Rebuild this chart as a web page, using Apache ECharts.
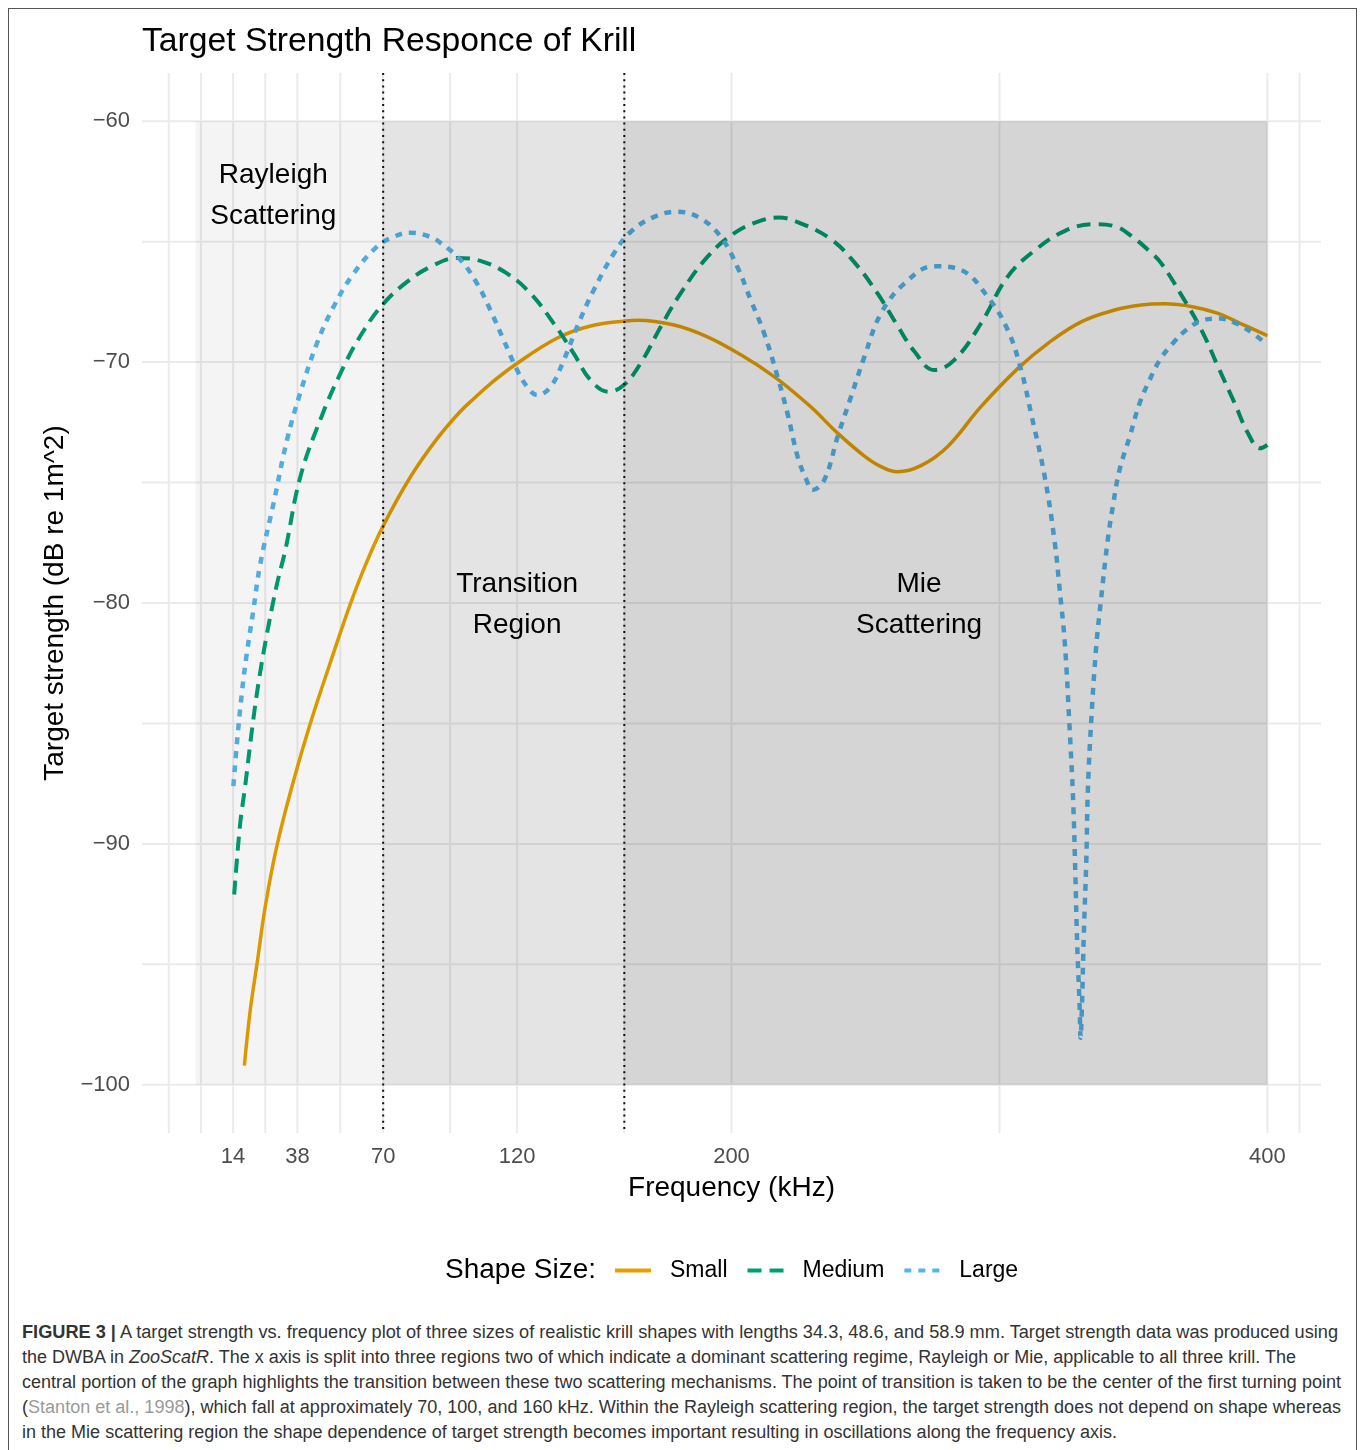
<!DOCTYPE html>
<html>
<head>
<meta charset="utf-8">
<script src="https://cdn.jsdelivr.net/npm/echarts@6/dist/echarts.min.js"></script>
<style>
html,body{margin:0;padding:0;background:#fff;}
#wrap{position:relative;width:1360px;height:1450px;overflow:hidden;font-family:"Liberation Sans",Arial,sans-serif;}
#frame{position:absolute;left:8px;top:8px;width:1349px;height:1500px;border:1px solid #555;box-sizing:border-box;pointer-events:none;}
#chart{position:absolute;left:0;top:0;width:1360px;height:1310px;}
#caption{position:absolute;left:22px;top:1320px;width:1320px;color:#333;font-size:18px;}
.cl{white-space:nowrap;height:25px;line-height:25px;}
.cl span.in{display:inline-block;transform-origin:0 50%;}
.cite{color:#9a9a9a;}
</style>
</head>
<body>
<div id="wrap">
<div id="chart"></div>
<div id="caption">
<div class="cl" data-w="1316"><span class="in"><b>FIGURE 3 |</b> A target strength vs. frequency plot of three sizes of realistic krill shapes with lengths 34.3, 48.6, and 58.9 mm. Target strength data was produced using</span></div>
<div class="cl" data-w="1274"><span class="in">the DWBA in <i>ZooScatR</i>. The x axis is split into three regions two of which indicate a dominant scattering regime, Rayleigh or Mie, applicable to all three krill. The</span></div>
<div class="cl" data-w="1319"><span class="in">central portion of the graph highlights the transition between these two scattering mechanisms. The point of transition is taken to be the center of the first turning point</span></div>
<div class="cl" data-w="1319"><span class="in">(<span class="cite">Stanton et al., 1998</span>), which fall at approximately 70, 100, and 160 kHz. Within the Rayleigh scattering region, the target strength does not depend on shape whereas</span></div>
<div class="cl" data-w="1095"><span class="in">in the Mie scattering region the shape dependence of target strength becomes important resulting in oscillations along the frequency axis.</span></div>
</div>
<div id="frame"></div>
</div>
<script>
// ---- data ----
const xBreaks = [14, 38, 70, 120, 200, 400];
const xMinorBreaks = [-10, 2, 26, 54, 95, 160, 300, 412];
const yBreaks = [-100, -90, -80, -70, -60];
const yMinorBreaks = [-95, -85, -75, -65];
const regionEdges = [0, 70, 160, 400];
const regionTS = [-100, -60];
const transitionFreqs = [70, 160];
const regionLabels = ['Rayleigh\nScattering', 'Transition\nRegion', 'Mie\nScattering'];
const regionLabelFreq = [29, 120, 270];
const regionLabelTS = [-63, -80, -80];
const seriesNames = ['Small', 'Medium', 'Large'];

const smallFreq = [18.2,20.4,22.9,26.0,30.3,36.5,42.8,50.2,57.7,63.3,70,80,90,98.8,104,110,119.4,135,147.4,160.5,165,178.6,191,203.5,215.9,225.9,231,239.6,249.6,256,262,270.7,280.7,293.1,306.9,318.1,330.5,343,352.9,361.6,372,381.6,390,400];
const smallTS = [-99.2,-96.9,-95.0,-92.6,-90.1,-87.4,-85.0,-82.5,-80.06,-78.45,-76.8,-74.8,-73.2,-72.05,-71.5,-70.9,-70.1,-69.0,-68.5,-68.29,-68.26,-68.46,-68.95,-69.7,-70.6,-71.5,-72.0,-72.95,-73.9,-74.35,-74.55,-74.3,-73.5,-71.85,-70.26,-69.22,-68.33,-67.84,-67.63,-67.58,-67.7,-67.98,-68.4,-68.9];

const mediumFreq = [14.4,16.6,18.5,21.0,23.5,26.6,30.3,33.5,39,46.5,55.2,62.7,70.2,78.9,87.6,97.6,106.3,116.2,125,133.7,141.1,147.4,154.2,159.8,166.1,173.6,181,191,200.9,209.6,217.5,225.8,237.1,245.8,254.5,262,268.2,275.6,283.1,293.1,303,313,324.5,335.4,343,350.4,356,360.4,367.9,375.4,381.6,387.8,392.8,397.2,400];
const mediumTS = [-92.1,-89.2,-87.6,-85.3,-83.3,-81.3,-79.25,-77.8,-74.8,-72.4,-70.2,-68.7,-67.56,-66.67,-66.05,-65.68,-65.8,-66.32,-67.15,-68.4,-69.64,-70.75,-71.23,-70.95,-70.05,-68.53,-67.15,-65.63,-64.66,-64.18,-64.0,-64.24,-64.9,-65.85,-67.15,-68.5,-69.55,-70.33,-69.92,-68.4,-66.46,-65.38,-64.55,-64.28,-64.36,-64.87,-65.4,-65.9,-67.22,-68.67,-70.2,-71.71,-72.96,-73.58,-73.44];

const largeFreq = [14.1,15.4,17.2,19.1,21.6,24.1,29.1,34.1,39,45.3,51.5,59,67.7,73.9,80.1,87.6,91.4,98.8,105,110,115,120,123.7,127.5,132.5,137.4,142.4,148.6,156.1,162.4,171.1,179.8,188.5,196,202.2,207.2,212.2,217.2,220.9,224.7,228,230.2,234.6,239.6,244.6,249.6,255.8,264.6,275.6,285.7,295.6,303.1,308.1,311.8,316.8,320.6,322.5,324.4,326.2,327.5,328.3,329.0,329.9,330.3,330.8,331.5,332.4,333.0,334.3,336.1,338,340.4,342.3,344.8,348.6,352.3,356,359.8,364.7,369.7,376,382.2,388.4,394.6,400];
const largeTS = [-87.6,-85.85,-83.8,-82.1,-80.27,-78.4,-75.86,-73.24,-71.3,-69.22,-67.7,-66.32,-65.21,-64.8,-64.63,-64.8,-65.05,-65.75,-66.73,-67.84,-69.09,-70.33,-71.02,-71.37,-71.02,-69.92,-68.53,-67.01,-65.49,-64.59,-63.97,-63.76,-64.04,-64.8,-66.05,-67.43,-68.81,-70.61,-72.13,-73.93,-74.9,-75.31,-74.9,-73.1,-71.44,-69.78,-67.98,-66.73,-66.02,-66.18,-67.29,-68.67,-70.33,-72.13,-74.7,-77.45,-79.46,-81.68,-85.24,-88.2,-91.16,-94.13,-96.65,-98.05,-96.65,-93.7,-90.72,-87.76,-84.8,-81.83,-79.76,-77.4,-76.0,-74.48,-73.1,-71.71,-70.75,-69.92,-69.22,-68.67,-68.26,-68.19,-68.4,-68.81,-69.29];

// ---- chart ----
const FONT = '"Liberation Sans", Arial, sans-serif';
const zip = (a, b) => a.map((v, i) => [v, b[i]]);
const chart = echarts.init(document.getElementById('chart'), null, {renderer: 'canvas'});

const gridSeries = {
  type: 'custom', coordinateSystem: 'cartesian2d', silent: true, z: 1, clip: false,
  data: [[200, -80]],
  renderItem: (params, api) => {
    const cs = params.coordSys;
    const ch = [];
    xBreaks.concat(xMinorBreaks).forEach(v => {
      const x = api.coord([v, -80])[0];
      ch.push({type: 'line', shape: {x1: x, y1: cs.y, x2: x, y2: cs.y + cs.height}, style: {stroke: '#EBEBEB', lineWidth: 2}});
    });
    yBreaks.concat(yMinorBreaks).forEach(v => {
      const y = api.coord([200, v])[1];
      ch.push({type: 'line', shape: {x1: cs.x, y1: y, x2: cs.x + cs.width, y2: y}, style: {stroke: '#EBEBEB', lineWidth: 2}});
    });
    return {type: 'group', children: ch};
  }
};

const shades = ['rgba(0,0,0,0.043)', 'rgba(0,0,0,0.105)', 'rgba(0,0,0,0.165)'];
const regionSeries = {
  type: 'custom', coordinateSystem: 'cartesian2d', silent: true, z: 3, clip: false,
  data: [[200, -80]],
  renderItem: (params, api) => {
    const ch = [];
    for (let i = 0; i < regionEdges.length - 1; i++) {
      const p0 = api.coord([regionEdges[i], regionTS[1]]);
      const p1 = api.coord([regionEdges[i + 1], regionTS[0]]);
      ch.push({type: 'rect', shape: {x: p0[0], y: p0[1], width: p1[0] - p0[0], height: p1[1] - p0[1]}, style: {fill: shades[i]}});
    }
    return {type: 'group', children: ch};
  }
};

const vlineSeries = {
  type: 'custom', coordinateSystem: 'cartesian2d', silent: true, z: 4, clip: false,
  data: [[200, -80]],
  renderItem: (params, api) => {
    const cs = params.coordSys;
    return {type: 'group', children: transitionFreqs.map(f => {
      const x = api.coord([f, -80])[0];
      return {type: 'line', shape: {x1: x, y1: cs.y, x2: x, y2: cs.y + cs.height}, style: {stroke: '#111', lineWidth: 2, lineDash: [2, 4.2]}};
    })};
  }
};

const labelSeries = {
  type: 'custom', coordinateSystem: 'cartesian2d', silent: true, z: 5, clip: false,
  data: [[200, -80]],
  renderItem: (params, api) => ({
    type: 'group',
    children: regionLabels.map((t, i) => {
      const p = api.coord([regionLabelFreq[i], regionLabelTS[i]]);
      return {type: 'text', x: p[0], y: p[1] + 2, style: {text: t, font: '28px ' + FONT, fill: '#000', align: 'center', verticalAlign: 'middle', lineHeight: 41}};
    })
  })
};

const lineColors = ['#E69F00', '#009E73', '#56B4E9'];
const lineData = [zip(smallFreq, smallTS), zip(mediumFreq, mediumTS), zip(largeFreq, largeTS)];
const lineDash = ['solid', [14, 8], [7, 7]];
const lineWidth = [3.5, 4, 4.5];
const dataSeries = seriesNames.map((n, i) => ({
  name: n, type: 'line', data: lineData[i], symbol: 'none', showSymbol: false,
  smooth: 0.4, z: 2, silent: true,
  lineStyle: {color: lineColors[i], width: lineWidth[i], type: lineDash[i], cap: 'butt'},
  itemStyle: {color: lineColors[i]}
}));

const fmtMinus = v => String(v).replace('-', '\u2212');

chart.setOption({
  animation: false,
  textStyle: {fontFamily: FONT},
  title: {text: 'Target Strength Responce of Krill', left: 137, top: 20,
    textStyle: {fontSize: 33.7, fontWeight: 'normal', color: '#000', fontFamily: FONT}},
  grid: {left: 142, top: 73, width: 1179, height: 1060, containLabel: false},
  xAxis: {
    type: 'value', min: -20, max: 420,
    name: 'Frequency (kHz)', nameLocation: 'middle', nameGap: 41,
    nameTextStyle: {fontSize: 28, color: '#000', fontFamily: FONT},
    axisLine: {show: false}, axisTick: {show: false}, splitLine: {show: false},
    axisLabel: {customValues: xBreaks, fontSize: 22, color: '#4D4D4D', margin: 13, fontFamily: FONT}
  },
  yAxis: {
    type: 'value', min: -102, max: -58,
    name: 'Target strength (dB re 1m^2)', nameLocation: 'middle', nameGap: 73,
    nameTextStyle: {fontSize: 28, color: '#000', fontFamily: FONT},
    axisLine: {show: false}, axisTick: {show: false}, splitLine: {show: false},
    axisLabel: {customValues: yBreaks, fontSize: 22, color: '#4D4D4D', margin: 12, formatter: fmtMinus, fontFamily: FONT}
  },
  legend: {
    data: seriesNames, left: 608, top: 1254, itemWidth: 36, itemHeight: 14, itemGap: 18,
    selectedMode: false,
    itemStyle: {opacity: 0},
    lineStyle: {width: 4},
    textStyle: {fontSize: 23, color: '#000', fontFamily: FONT, padding: [0, 0, 0, 14]}
  },
  graphic: [{type: 'text', left: 445, top: 1256, style: {text: 'Shape Size:', font: '28px ' + FONT, fill: '#000'}}],
  series: [gridSeries].concat(dataSeries, [regionSeries, vlineSeries, labelSeries])
});

// fit caption lines to their measured widths
document.querySelectorAll('.cl').forEach(el => {
  const inner = el.querySelector('.in');
  const target = parseFloat(el.getAttribute('data-w'));
  const w = inner.getBoundingClientRect().width;
  if (w > 0) inner.style.transform = 'scaleX(' + (target / w) + ')';
});
</script>
</body>
</html>
